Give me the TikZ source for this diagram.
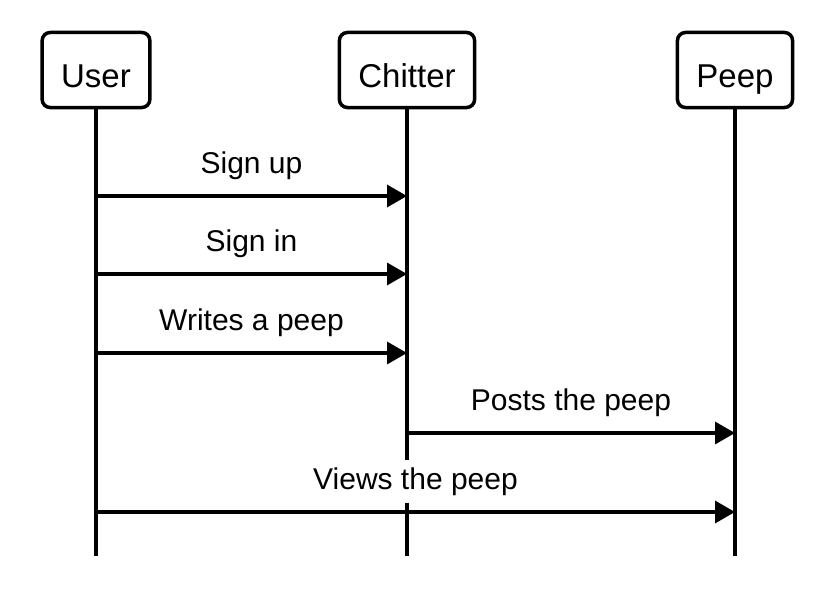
\documentclass[tikz,border=0pt]{standalone}
\usepackage{fontspec}
\setmainfont{Liberation Sans}
\usetikzlibrary{arrows.meta}

\tikzset{
	actor/.style={draw, line width=3.5pt, rounded corners=8pt, minimum height=75pt, inner xsep=19pt, text height=34pt, text depth=0pt, font=\fontsize{33}{38}\selectfont},
	life/.style={line width=3.5pt},
	msg/.style={line width=3.5pt, arrows={-Triangle[length=20pt,width=22pt]}},
	lbl/.style={midway, anchor=base, yshift=23pt, fill=white, inner ysep=7.5pt, text depth=6.5pt, font=\fontsize{30}{36}\selectfont}
}

\begin{document}
\begin{tikzpicture}[x=1pt, y=-1pt]

	\useasboundingbox (0,0) rectangle (816,594);

	\node [actor] (user) at (96,70) {User};
	\node [actor] (chitter) at (407,70) {Chitter};
	\node [actor] (peep) at (735,70) {Peep};

	\coordinate (userend) at (96,556);
	\coordinate (chitterend) at (407,556);
	\coordinate (peepend) at (735,556);

	\draw [life] (user) -- (userend);
	\draw [life] (chitter) -- (chitterend);
	\draw [life] (peep) -- (peepend);

	\draw [msg] (user |- 0,196) -- (chitter |- 0,196) node [lbl] {Sign up};
	\draw [msg] (user |- 0,274) -- (chitter |- 0,274) node [lbl] {Sign in};
	\draw [msg] (user |- 0,353) -- (chitter |- 0,353) node [lbl] {Writes a peep};
	\draw [msg] (chitter |- 0,433) -- (peep |- 0,433) node [lbl] {Posts the peep};
	\draw [msg] (user |- 0,512) -- (peep |- 0,512) node [lbl] {Views the peep};

\end{tikzpicture}
\end{document}
